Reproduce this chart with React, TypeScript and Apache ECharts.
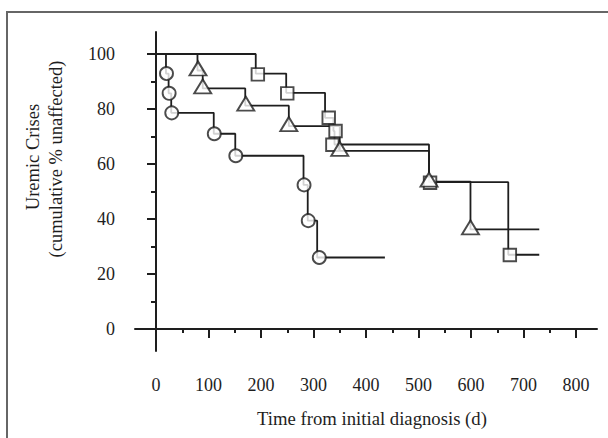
import React, { useEffect, useRef } from "react";
import * as echarts from "echarts";

// Tick values
const xMajorTicks = [0, 100, 200, 300, 400, 500, 600, 700, 800];
const xMinorTicks = [50, 150, 250, 350, 450, 550, 650, 750];
const yMajorTicks = [0, 20, 40, 60, 80, 100];
const yMinorTicks = [10, 30, 50, 70, 90];

// Circle group (step curve)
const circleTimes = [0, 19, 24, 29, 110, 151, 281, 289, 307, 436];
const circleValues = [100, 92.9, 85.7, 78.6, 71, 63, 52.4, 39.4, 26, 26];
const circleMarkTimes = [20, 25, 30, 111, 152, 282, 290, 311];
const circleMarkValues = [92.9, 85.7, 78.6, 71, 63, 52.4, 39.4, 26];

// Triangle group
const triTimes = [0, 79, 89, 170, 253, 350, 520, 599, 730];
const triValues = [100, 94, 87.5, 81.2, 73.8, 64.8, 53.6, 36.2, 36.2];
const triMarkTimes = [80, 89, 171, 253, 350, 520, 599];
const triMarkValues = [94, 87.5, 81.2, 73.8, 64.8, 53.6, 36.2];

// Square group
const sqTimes = [0, 190, 248, 322, 338, 340, 520, 671, 730];
const sqValues = [100, 92.9, 85.9, 76.8, 72, 67.1, 53.4, 27, 27];
const sqMarkTimes = [194, 250, 329, 342, 336, 522, 674];
const sqMarkValues = [92.6, 85.7, 76.8, 72, 67, 53.2, 26.9];

const FONT = "Liberation Serif";
const INK = "#1e1e1e";

function zip(a: number[], b: number[]) {
  return a.map((v, i) => [v, b[i]]);
}

export default function App() {
  const ref = useRef<HTMLDivElement>(null);
  useEffect(() => {
    if (!ref.current) return;
    const chart = echarts.init(ref.current, undefined, { renderer: "svg" });
    const lineStyle = { color: INK, width: 1.8 };
    const markStyle = { color: "#ffffff", borderColor: INK, borderWidth: 1.9 };
    const option: any = {
      animation: false,
      backgroundColor: "#ffffff",
      grid: { left: 135, right: 11, top: 32, bottom: 87 },
      xAxis: [
        {
          type: "value",
          min: -40,
          max: 840,
          position: "bottom",
          splitLine: { show: false },
          axisLine: { show: true, lineStyle: { color: INK, width: 2 } },
          axisTick: { show: true, customValues: xMajorTicks, length: 9, lineStyle: { color: INK, width: 2 } },
          axisLabel: {
            show: true,
            customValues: xMajorTicks,
            margin: 25,
            fontSize: 18,
            fontFamily: FONT,
            color: INK,
          },
        },
        {
          type: "value",
          min: -40,
          max: 840,
          position: "bottom",
          offset: 0,
          splitLine: { show: false },
          axisLine: { show: false },
          axisTick: { show: true, customValues: xMinorTicks, length: 4, lineStyle: { color: INK, width: 2 } },
          axisLabel: { show: false },
        },
      ],
      yAxis: [
        {
          type: "value",
          min: -8,
          max: 108,
          position: "left",
          splitLine: { show: false },
          axisLine: { show: true, lineStyle: { color: INK, width: 2 } },
          axisTick: { show: true, customValues: yMajorTicks, length: 9, lineStyle: { color: INK, width: 2 } },
          axisLabel: {
            show: true,
            customValues: yMajorTicks,
            margin: 20,
            fontSize: 18,
            fontFamily: FONT,
            color: INK,
          },
        },
        {
          type: "value",
          min: -8,
          max: 108,
          position: "left",
          offset: 0,
          splitLine: { show: false },
          axisLine: { show: false },
          axisTick: { show: true, customValues: yMinorTicks, length: 5, lineStyle: { color: INK, width: 2 } },
          axisLabel: { show: false },
        },
      ],
      series: [
        {
          type: "line",
          step: "end",
          data: zip(circleTimes, circleValues),
          showSymbol: false,
          lineStyle,
          z: 2,
        },
        {
          type: "line",
          step: "end",
          data: zip(triTimes, triValues),
          showSymbol: false,
          lineStyle,
          z: 2,
        },
        {
          type: "line",
          step: "end",
          data: zip(sqTimes, sqValues),
          showSymbol: false,
          lineStyle,
          z: 2,
        },
        {
          type: "scatter",
          data: zip(circleMarkTimes, circleMarkValues),
          symbol: "circle",
          symbolSize: 13,
          itemStyle: markStyle,
          z: 3,
        },
        {
          type: "scatter",
          data: zip(sqMarkTimes, sqMarkValues),
          symbol: "rect",
          symbolSize: 12.5,
          itemStyle: markStyle,
          z: 3,
        },
        {
          type: "scatter",
          data: zip(triMarkTimes, triMarkValues),
          symbol: "triangle",
          symbolSize: [17, 14],
          symbolOffset: [0, -2],
          itemStyle: markStyle,
          z: 4,
        },
      ],
      graphic: [
        {
          type: "polyline",
          shape: { points: [[7, 438], [7, 12], [608, 12]] },
          style: { stroke: "#666666", lineWidth: 2, fill: "none" },
          silent: true,
        },
        {
          type: "text",
          x: 33,
          y: 157,
          rotation: Math.PI / 2,
          style: {
            text: "Uremic Crises",
            fontSize: 18.5,
            fontFamily: FONT,
            fill: INK,
            align: "center",
            verticalAlign: "middle",
          },
        },
        {
          type: "text",
          x: 56,
          y: 159,
          rotation: Math.PI / 2,
          style: {
            text: "(cumulative % unaffected)",
            fontSize: 18.5,
            fontFamily: FONT,
            fill: INK,
            align: "center",
            verticalAlign: "middle",
          },
        },
        {
          type: "text",
          x: 372,
          y: 418,
          style: {
            text: "Time from initial diagnosis (d)",
            fontSize: 18.7,
            fontFamily: FONT,
            fill: INK,
            align: "center",
            verticalAlign: "middle",
          },
        },
      ],
    };
    chart.setOption(option);
    return () => chart.dispose();
  }, []);
  return (
    <div
      ref={ref}
      style={{ position: "absolute", left: 0, top: 0, width: 608, height: 438, background: "#fff" }}
    />
  );
}
